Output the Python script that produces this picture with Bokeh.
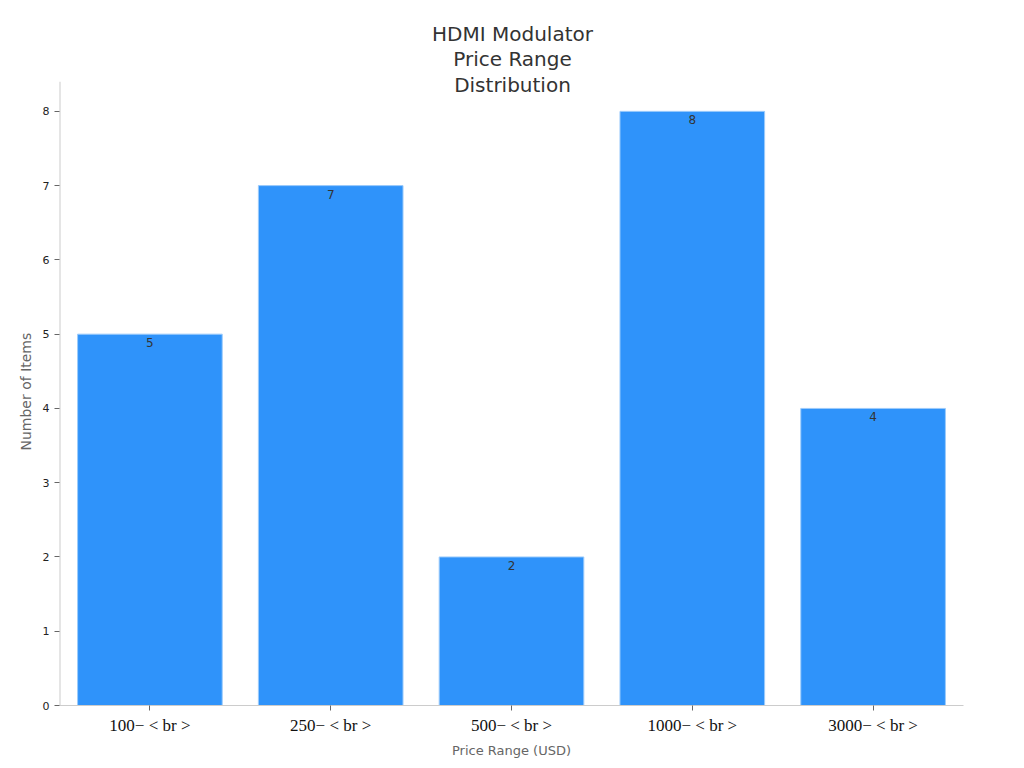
from bokeh.plotting import figure
from bokeh.models import ColumnDataSource, LabelSet, Range1d, Label, Title
from bokeh.core.properties import value
from bokeh.embed import file_html
from bokeh.resources import INLINE

# data
price_ranges = ["100− < br >", "250− < br >", "500− < br >", "1000− < br >", "3000− < br >"]
item_counts = [5, 7, 2, 8, 4]
title_lines = ["HDMI Modulator", "Price Range", "Distribution"]
y_top = 8.4  # where the visible y axis line stops

source = ColumnDataSource(data=dict(
    price_range=price_ranges,
    count=item_counts,
    label=[str(c) for c in item_counts],
))

# frame reaches up to the top so the title (drawn as labels) is not clipped
p = figure(
    x_range=price_ranges,
    y_range=Range1d(0, 9.358),
    width=1008, height=760,
    output_backend="svg", toolbar_location=None,
    min_border_left=59, min_border_right=45, min_border_top=10, min_border_bottom=54,
)
p.x_range.range_padding = 0.0

p.vbar(x="price_range", top="count", width=0.8, source=source,
       fill_color="#2f93fa", line_color="#9ccbfb", line_width=1)

labels = LabelSet(x="price_range", y="count", text="label", source=source,
                  text_align="center", text_baseline="top", y_offset=-4,
                  text_font_size="12px", text_color="#333333",
                  text_font=value("DejaVu Sans"))
p.add_layout(labels)

# y axis line only up to y_top, like the reference
p.segment(x0=[0], y0=[0], x1=[0], y1=[y_top], line_color="#cccccc", line_width=2)

# title as three centred lines (screen units from frame bottom-left)
for i, line in enumerate(title_lines):
    p.add_layout(Label(x=453, y=672 - 25.5 * i, x_units="screen", y_units="screen",
                       text=line, text_align="center", text_baseline="middle",
                       text_font="DejaVu Sans", text_font_size="20px",
                       text_color="#333333"))

# y axis title, placed to sit midway along the visible axis
p.add_layout(Title(text="Number of Items", align="left", offset=255, standoff=12,
                   text_font="DejaVu Sans", text_font_size="14px",
                   text_font_style="normal", text_color="#666666"), "left")

# axes
p.xaxis.axis_label = "Price Range (USD)"
p.xaxis.axis_label_text_font = "DejaVu Sans"
p.xaxis.axis_label_text_font_size = "13px"
p.xaxis.axis_label_text_font_style = "normal"
p.xaxis.axis_label_text_color = "#666666"
for ax in (p.xaxis, p.yaxis):
    ax.axis_line_color = "#cccccc"
    ax.major_tick_line_color = "#666666"
    ax.major_tick_in = 0
    ax.major_tick_out = 5
    ax.minor_tick_line_color = None
p.yaxis.axis_line_color = None

p.yaxis.ticker = [0, 1, 2, 3, 4, 5, 6, 7, 8]
p.yaxis.major_label_text_font = "DejaVu Sans"
p.yaxis.major_label_text_font_size = "11px"
p.yaxis.major_label_text_color = "#222222"

p.xaxis.major_label_text_font = "Liberation Serif"
p.xaxis.major_label_text_font_size = "17px"
p.xaxis.major_label_text_color = "#111111"

p.xgrid.grid_line_color = None
p.ygrid.grid_line_color = None
p.outline_line_color = None

open("out.html", "w").write(file_html(p, INLINE))
